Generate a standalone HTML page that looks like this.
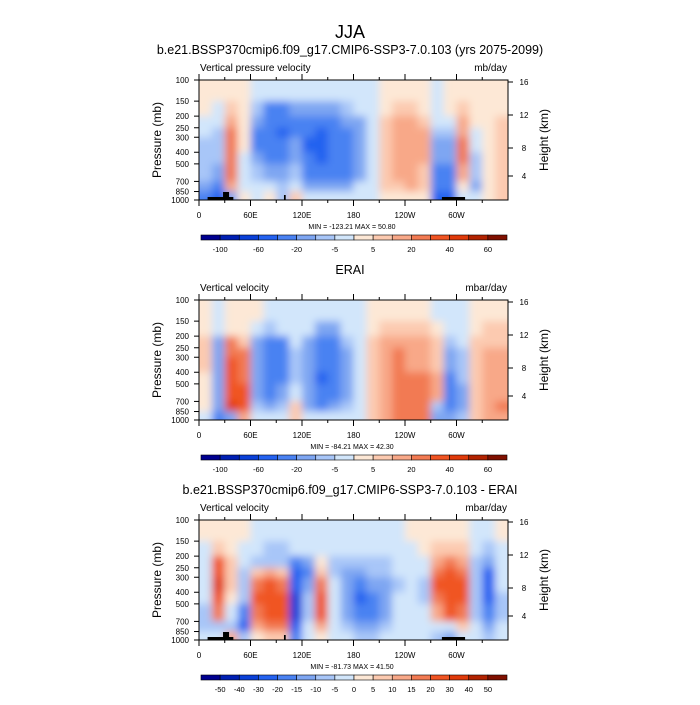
<!DOCTYPE html>
<html><head><meta charset="utf-8"><style>
body{margin:0;background:#fff;}
svg{font-family:"Liberation Sans",sans-serif;}
</style></head><body>
<svg id="root" width="700" height="700" viewBox="0 0 700 700">
<defs>
<filter id="bl" x="-0.05" y="-0.05" width="1.1" height="1.1"><feGaussianBlur stdDeviation="4"/></filter>
</defs>
<text x="350" y="38" text-anchor="middle" font-size="18">JJA</text>
</svg>
<script>
const NS="http://www.w3.org/2000/svg";
const root=document.getElementById('root');
const lonCenters=[7.5,22.5,37.5,52.5,67.5,82.5,97.5,112.5,127.5,142.5,157.5,172.5,187.5,202.5,217.5,232.5,247.5,262.5,277.5,292.5,307.5,322.5,337.5,352.5];
const pBounds=[100,150,200,250,300,400,500,700,850,1000];
const pTicks=[100,150,200,250,300,400,500,700,850,1000];
const xTickLabels=["0","60E","120E","180","120W","60W"];
const hTickLabels=["16","12","8","4"];
const colors=["#000090","#0020b4","#0a40d8","#2462f0","#4a82f2","#7ea6f2","#a8c6f8","#d2e6fb","#fde8d6","#fccab0","#f8a888","#f27a52","#f05422","#e03a0a","#b22200","#801000"];
const levels1=[-100,-80,-60,-40,-20,-10,-5,0,5,10,20,30,40,50,60];
const labels1=["-100","","-60","","-20","","-5","","5","","20","","40","","60"];
const levels3=[-50,-40,-30,-20,-15,-10,-5,0,5,10,15,20,30,40,50];
const labels3=["-50","-40","-30","-20","-15","-10","-5","0","5","10","15","20","30","40","50"];
const field1=[
[3,3,-3,-3,-6,-8,-8,-15,-25],[3,-3,-3,-8,-8,-8,-15,-30,-50],[3,8,15,20,25,25,20,10,-20],[3,3,3,3,3,-3,-3,-3,3],
[-3,-10,-20,-25,-25,-15,-10,-5,-3],[-5,-25,-35,-38,-35,-25,-12,-5,3],[-5,-25,-35,-42,-35,-30,-15,-10,-10],[-3,-20,-30,-25,-20,-12,-8,-5,5],
[-5,-20,-35,-38,-45,-38,-30,-12,-5],[-5,-15,-35,-45,-55,-50,-35,-15,-5],[-5,-12,-30,-38,-38,-38,-32,-12,-5],[-3,-8,-20,-30,-30,-30,-25,-12,-5],
[-3,-5,-12,-20,-20,-20,-15,-5,-3],[-3,-3,-3,-3,-3,-3,-3,-3,-3],[3,3,8,8,8,8,8,5,3],[3,5,15,15,15,15,15,8,3],
[3,5,12,15,15,15,15,12,3],[3,3,8,10,10,10,8,8,3],[-3,-3,-5,-8,-15,-20,-30,-40,-50],[3,3,-5,-8,-15,-20,-30,-35,-50],
[3,5,10,15,25,20,10,3,-5],[3,3,3,-3,-5,-8,-8,-15,-3],[3,3,3,3,3,3,3,3,3],[3,3,5,8,8,8,8,5,8]];
const field2=[
[3,3,5,5,5,3,3,3,-5],[-3,-3,-15,-20,-20,-20,-15,-20,-40],[3,3,20,20,30,30,30,40,-20],[3,3,8,20,25,25,30,35,15],
[3,-5,-20,-20,-20,-20,-20,-10,-3],[-3,-8,-25,-25,-30,-30,-25,-15,-5],[-3,-5,-25,-25,-30,-30,-20,-10,-3],[-3,-3,-5,-10,-10,-8,-5,5,5],
[-3,-5,-15,-20,-20,-20,-20,-15,-5],[-3,-15,-25,-30,-40,-50,-40,-25,-5],[-3,-15,-25,-30,-30,-35,-30,-20,-5],[-3,-3,-8,-15,-15,-15,-15,-8,-3],
[-3,-3,-3,-3,-3,-3,-3,-3,-3],[3,3,5,5,8,8,8,8,5],[3,5,15,15,15,15,15,15,10],[3,8,15,20,25,20,20,25,20],
[3,8,15,15,15,20,25,25,25],[3,5,15,15,15,20,25,25,25],[-3,3,8,8,8,15,15,-10,-20],[-3,-3,-8,-15,-20,-25,-30,-35,-20],
[-3,-3,-5,-8,-8,-10,-15,-15,-10],[3,3,5,8,8,8,8,5,5],[3,5,8,15,15,15,15,15,15],[3,5,8,15,15,15,15,20,15]];
const field3=[
[3,-3,-3,-3,-3,-3,-8,-8,-5],[3,8,20,25,30,25,15,-8,-3],[3,3,8,8,8,3,-3,-10,10],[3,-3,-5,-8,-8,-10,-20,-25,-10],
[-3,-3,-8,8,15,20,15,10,3],[-3,-10,-10,10,20,25,20,15,8],[-3,-10,-8,8,15,20,20,15,8],[-3,-3,-20,-25,-30,-40,-40,-30,-20],
[-3,-5,-15,-20,-15,-10,-8,-5,-3],[-3,-5,3,8,15,25,20,10,3],[-3,-5,-10,-10,-5,-5,-5,-3,-3],[-3,-5,-10,-15,-15,-15,-15,-10,-5],
[-3,-5,-10,-15,-20,-25,-20,-15,-8],[-3,-5,-10,-10,-15,-20,-20,-15,-8],[-3,-5,-8,-10,-15,-15,-15,-10,-5],[-3,-3,-5,-5,-8,-5,-5,-3,-3],
[3,-3,-3,-3,-3,-3,-3,-3,-3],[3,3,-3,-5,-8,-8,-5,-3,-3],[3,8,10,15,25,15,10,-5,-10],[3,8,15,20,25,25,20,-5,-15],
[3,5,10,15,20,20,15,5,-3],[-3,-5,-8,-8,-8,-8,-8,-5,-3],[-3,-10,-15,-25,-30,-25,-20,-15,-8],[3,-3,-5,-5,-5,-8,-8,-5,-3]];

const X0=199,X1=508,H=120;
function xs(lon){return X0+(X1-X0)*lon/360;}
function ys(top,p){return top+H*Math.log(p/100)/Math.log(10);}
function colorFor(v,lev){let i=0;while(i<lev.length&&v>=lev[i])i++;return colors[i];}
function mk(tag,attrs,parent){const e=document.createElementNS(NS,tag);for(const k in attrs)e.setAttribute(k,attrs[k]);(parent||root).appendChild(e);return e;}
function txt(x,y,s,size,anchor,parent){const t=mk('text',{x:x,y:y,'font-size':size,'text-anchor':anchor||'start'},parent);t.textContent=s;return t;}

function panel(top,title,left,right,field,lev,labs,minmax,terrain,idx){
  const g=mk('g',{});
  
  
  const tt=txt(350,top-26,title,12.5,'middle',g);
  
  
  const lt=txt(200,top-9,left,10,'start',g);
  
  
  const rt=txt(507,top-9,right,10,'end',g);
  
  
  const cid='cp'+idx;
  const cp=mk('clipPath',{id:cid},g);mk('rect',{x:X0,y:top,width:X1-X0,height:H},cp);
  const gc=mk('g',{'clip-path':'url(#'+cid+')'},g);
  const gf=mk('g',{filter:'url(#bl)'},gc);
  const dl=360/lonCenters.length;
  for(let c=0;c<lonCenters.length;c++){
    for(let r=0;r<pBounds.length-1;r++){
      const x=xs(lonCenters[c]-dl/2)-(c==0?10:0),x2=xs(lonCenters[c]+dl/2)+(c==lonCenters.length-1?10:0);
      const y=ys(top,pBounds[r])-(r==0?10:0),y2=ys(top,pBounds[r+1])+(r==pBounds.length-2?10:0);
      const rc=mk('rect',{x:x,y:y,width:x2-x+0.6,height:y2-y+0.6,fill:colorFor(field[c][r],lev)},gf);
      
      
    }
  }
  if(terrain){
    [[10,40,3],[28,35,8],[99,101,5],[283,310,3]].forEach(t=>{
      const tr=mk('rect',{x:xs(t[0]),y:top+H-t[2],width:xs(t[1])-xs(t[0]),height:t[2],fill:'#000'},gc);
      
      
    });
  }
  mk('rect',{x:X0,y:top,width:X1-X0,height:H,fill:'none',stroke:'#000','stroke-width':1},g);
  for(let i=0;i<12;i++){
    const lon=i*30,x=xs(lon),len=i%2==0?6:3;
    mk('line',{x1:x,y1:top+H,x2:x,y2:top+H+len,stroke:'#000'},g);
    mk('line',{x1:x,y1:top,x2:x,y2:top-len,stroke:'#000'},g);
    if(i%2==0){const l=txt(x,top+H+18,xTickLabels[i/2],8,'middle',g);
      }
  }
  pTicks.forEach(p=>{const y=ys(top,p);mk('line',{x1:X0,y1:y,x2:X0-5,y2:y,stroke:'#000'},g);
    const l=txt(189,y+3,String(p),8,'end',g);});
  const hOff=[2,35,68,96];
  hOff.forEach((o,i)=>{const y=top+o;mk('line',{x1:X1,y1:y,x2:X1+5,y2:y,stroke:'#000'},g);
    const l=txt(524,y+3,hTickLabels[i],8,'middle',g);});
  const yt=txt(0,0,'Pressure (mb)',12,'middle',g);yt.setAttribute('transform','translate(161,'+(top+60)+') rotate(-90)');
  
  const ht=txt(0,0,'Height (km)',12,'middle',g);ht.setAttribute('transform','translate(548,'+(top+60)+') rotate(-90)');
  
  const mm=txt(352,top+H+29,minmax,7,'middle',g);
  const cb=mk('g',{},g);
  const cx0=201,cx1=507,cy=top+H+35,bw=(cx1-cx0)/16;
  for(let i=0;i<16;i++){const b=mk('rect',{x:cx0+i*bw,y:cy,width:bw,height:5,fill:colors[i],stroke:'#000','stroke-width':0.6},cb);
    }
  labs.forEach((s,i)=>{if(s){const l=txt(cx0+(i+1)*bw,cy+17,s,7.5,'middle',cb);}});
}
panel(80,'b.e21.BSSP370cmip6.f09_g17.CMIP6-SSP3-7.0.103 (yrs 2075-2099)','Vertical pressure velocity','mb/day',field1,levels1,labels1,'MIN = -123.21   MAX =  50.80',true,1);
panel(300,'ERAI','Vertical velocity','mbar/day',field2,levels1,labels1,'MIN = -84.21   MAX =  42.30',false,2);
panel(520,'b.e21.BSSP370cmip6.f09_g17.CMIP6-SSP3-7.0.103 - ERAI','Vertical velocity','mbar/day',field3,levels3,labels3,'MIN = -81.73   MAX =  41.50',true,3);
</script>
</body></html>
